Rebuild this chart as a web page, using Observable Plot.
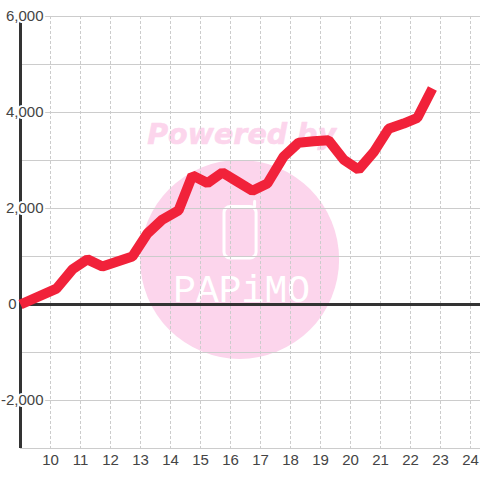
<!DOCTYPE html>
<html><head><meta charset="utf-8">
<script src="https://cdn.jsdelivr.net/npm/d3@7"></script>
<script src="https://cdn.jsdelivr.net/npm/@observablehq/plot@0.6"></script>
<style>html,body{margin:0;padding:0;background:#fff}svg{display:block;overflow:visible}</style>
</head><body><div id="chart"></div>
<script>
const hours = [9.0,10.2,10.73,11.23,11.73,12.73,13.23,13.73,14.27,14.73,15.23,15.73,16.23,16.73,17.23,17.77,18.27,18.77,19.27,19.77,20.27,20.77,21.27,21.77,22.23,22.73];
const values = [0,330,730,940,790,1000,1480,1770,1960,2690,2530,2750,2560,2370,2520,3080,3370,3400,3420,3020,2810,3170,3660,3770,3890,4500];
const xTicks = [10,11,12,13,14,15,16,17,18,19,20,21,22,23,24];
const yGrid = [-3000,-2000,-1000,0,1000,2000,3000,4000,5000,6000];
const yLabels = [-2000,2000,4000,6000];
const zeroLabel = [0];
const series = hours.map((h,i)=>({h,v:values[i]}));
const fmt = d => d3.format(",")(d).replace("\u2212","-");

const wmColor = "#fcd5ec";
const badge = [{x:16.37,y:940,t:"PAPiMO"}];
const byline = [{x:16.37,y:3500,t:"Powered by"}];
const phone = [{x1:15.8,x2:16.87,y1:960,y2:2030}];
const antenna = [{x1:16.77,x2:16.87,y1:2000,y2:2170}];

const chart = Plot.plot({
  width:480,height:480,marginLeft:20,marginRight:0,marginTop:16,marginBottom:32,
  style:{background:"#fff",fontFamily:"'Liberation Sans',Arial,sans-serif"},
  x:{domain:[9,24+1/3],label:null},
  y:{domain:[-3000,6000],label:null},
  marks:[
    Plot.dot(badge,{x:"x",y:"y",r:99.5,fill:wmColor,dx:-2}),
    Plot.text(byline,{x:"x",y:"y",text:"t",fill:wmColor,stroke:wmColor,strokeWidth:0.6,fontSize:28.5,fontWeight:"bold",fontStyle:"italic",fontFamily:"'DejaVu Sans'",dy:-2}),
    Plot.rect(phone,{x1:"x1",x2:"x2",y1:"y1",y2:"y2",stroke:"#fff",strokeWidth:3,fill:"none",rx:6}),
    Plot.rect(antenna,{x1:"x1",x2:"x2",y1:"y1",y2:"y2",fill:"#fff",rx:2}),
    Plot.text(badge,{x:"x",y:"y",text:"t",fill:"#fff",fontSize:38,fontFamily:"'Liberation Mono'",dy:30}),
    Plot.gridY(yGrid,{stroke:"#ccc",strokeOpacity:1,strokeWidth:1}),
    Plot.gridX(xTicks,{stroke:"#ccc",strokeOpacity:1,strokeWidth:1,strokeDasharray:"3,2"}),
    Plot.ruleY([0],{stroke:"#333",strokeWidth:3}),
    Plot.ruleX([9],{stroke:"#333",strokeWidth:3}),
    Plot.line(series,{x:"h",y:"v",stroke:"#f1223a",strokeWidth:10,strokeLinejoin:"bevel",strokeLinecap:"butt"}),
    Plot.axisY(yLabels,{anchor:"left",tickSize:0,tickPadding:-23,tickFormat:fmt,fontSize:15,fill:"#444",textStroke:"#fff",textStrokeWidth:4,label:null}),
    Plot.axisY(zeroLabel,{anchor:"left",tickSize:0,tickPadding:4,tickFormat:fmt,fontSize:15,fill:"#444",label:null}),
    Plot.axisX(xTicks,{anchor:"bottom",tickSize:0,tickPadding:6,fontSize:15,fill:"#444",label:null})
  ]
});
document.getElementById("chart").append(chart);
</script></body></html>
